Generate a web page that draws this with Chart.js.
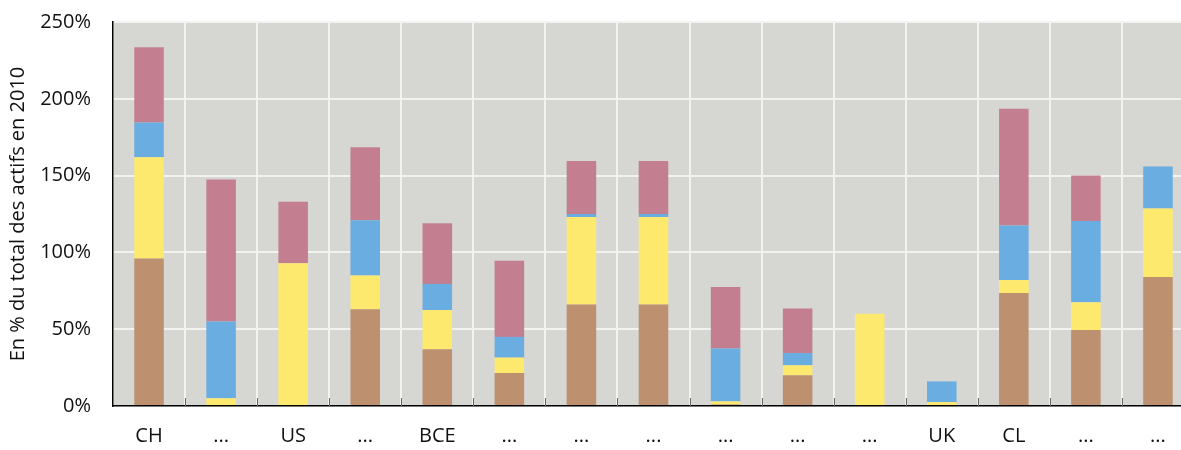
<!DOCTYPE html>
<html>
<head>
<meta charset="utf-8">
<script src="https://cdn.jsdelivr.net/npm/chart.js@4"></script>
<style>
  html, body { margin: 0; padding: 0; background: #fff; overflow: hidden; }
  /* the plot runs a little past the right edge of the window, as in the source */
  #wrap { width: 1194px; height: 450px; }
</style>
</head>
<body>
<div id="wrap"><canvas id="bankChart"></canvas></div>
<script>
// categories (x axis)
const labels = ['CH', '...', 'US', '...', 'BCE', '...', '...', '...', '...', '...', '...', 'UK', 'CL', '...', '...'];

// stacked segments, in % of total assets, bottom to top
const brown  = [96, 0, 0, 63, 37, 21.5, 66, 66, 1, 20, 0, 0, 73.5, 49.5, 84];
const yellow = [66, 5, 93, 22, 25.5, 10, 57, 57, 2, 6.5, 60, 2.5, 8.5, 18, 44.5];
const blue   = [22.5, 50, 0, 36, 17, 13.5, 2, 2, 34.5, 8, 0, 13.5, 35.5, 53, 27.5];
const pink   = [49, 92.5, 40, 47.5, 39.5, 49.5, 34.5, 34.5, 40, 29, 0, 0, 76, 29.5, 0];

const yTicks = [0, 50, 100, 150, 200, 250];

const fontFamily = '"Open Sans", "DejaVu Sans", sans-serif';

// grey plot background
const plotBackground = {
    id: 'plotBackground',
    beforeDraw(chart) {
        const { ctx, chartArea } = chart;
        ctx.save();
        ctx.fillStyle = '#d6d6d2';
        ctx.fillRect(chartArea.left, chartArea.top, chartArea.right - chartArea.left, chartArea.bottom - chartArea.top);
        ctx.restore();
    }
};

// short grey ticks just above the x axis, between categories
const innerTicks = {
    id: 'innerTicks',
    afterDatasetsDraw(chart) {
        const { ctx, chartArea } = chart;
        const x = chart.scales.x;
        const step = x.getPixelForValue(1) - x.getPixelForValue(0);
        ctx.save();
        ctx.strokeStyle = '#666';
        ctx.lineWidth = 1;
        for (let i = 1; i < labels.length; i++) {
            const px = Math.round(x.getPixelForValue(i) - step / 2) + 0.5;
            ctx.beginPath();
            ctx.moveTo(px, chartArea.bottom - 8);
            ctx.lineTo(px, chartArea.bottom);
            ctx.stroke();
        }
        ctx.restore();
    }
};

const ds = (label, data, color) => ({
    label: label,
    data: data,
    backgroundColor: color,
    borderWidth: 0,
    barPercentage: 0.41,
    categoryPercentage: 1.0
});

const config = {
    type: 'bar',
    data: {
        labels: labels,
        datasets: [
            ds('brown', brown, '#bd9170'),
            ds('yellow', yellow, '#fee96f'),
            ds('blue', blue, '#6aade0'),
            ds('pink', pink, '#c37f8f')
        ]
    },
    options: {
        responsive: true,
        maintainAspectRatio: false,
        animation: false,
        layout: { padding: { top: 0, right: 0, bottom: 0, left: 6 } },
        plugins: {
            legend: { display: false },
            tooltip: { enabled: false }
        },
        scales: {
            x: {
                stacked: true,
                grid: {
                    color: '#f2f2f0',
                    lineWidth: 2,
                    drawTicks: false,
                    offset: true
                },
                border: { color: '#000', width: 1.5 },
                ticks: {
                    color: '#111',
                    font: { family: fontFamily, size: 20 },
                    padding: 18,
                    maxRotation: 0,
                    autoSkip: false
                },
                afterFit: (scale) => {
                    scale.height = 44;
                    scale.paddingLeft = 0;
                    scale.paddingRight = 0;
                }
            },
            y: {
                stacked: true,
                min: 0,
                max: 250,
                afterBuildTicks: (scale) => { scale.ticks = yTicks.map(v => ({ value: v })); },
                grid: {
                    color: '#f2f2f0',
                    lineWidth: 2,
                    drawTicks: false
                },
                border: { color: '#000', width: 1.5 },
                ticks: {
                    color: '#111',
                    font: { family: fontFamily, size: 20 },
                    padding: 22,
                    callback: (v) => v + '%'
                },
                title: {
                    display: true,
                    text: 'En % du total des actifs en 2010',
                    color: '#111',
                    font: { family: fontFamily, size: 20 },
                    padding: { top: 0, bottom: 4 }
                },
                afterFit: (scale) => {
                    scale.width = 107;
                    scale.paddingTop = 22;
                    scale.paddingBottom = 0;
                }
            }
        }
    },
    plugins: [plotBackground, innerTicks]
};

new Chart(document.getElementById('bankChart').getContext('2d'), config);
</script>
</body>
</html>
